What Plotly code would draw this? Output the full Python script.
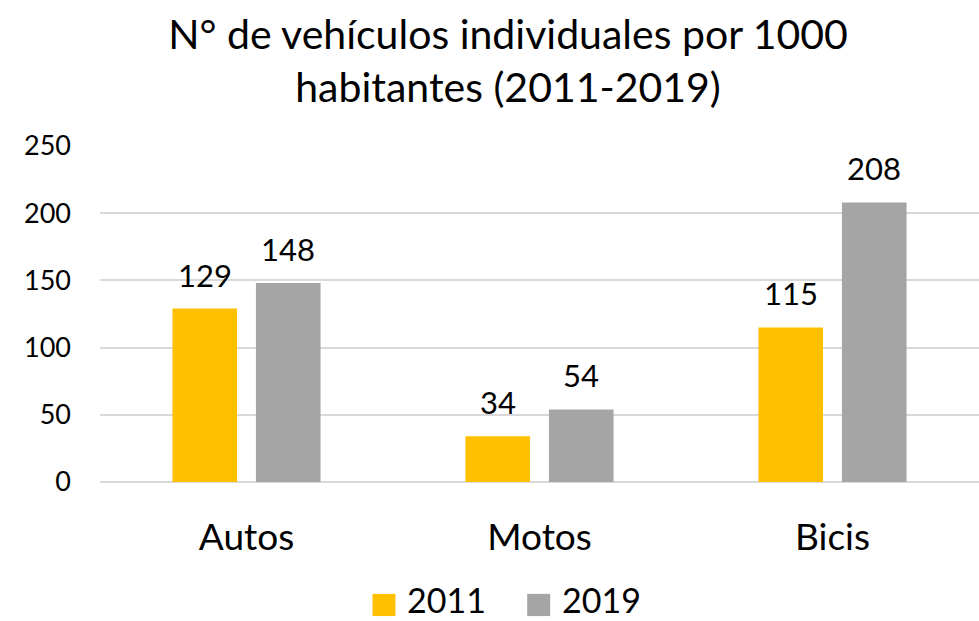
import plotly.graph_objects as go

categories = ["Autos", "Motos", "Bicis"]
series_names = ["2011", "2019"]
values_2011 = [129, 34, 115]
values_2019 = [148, 54, 208]
colors = ["#FFC000", "#A5A5A5"]
y_ticks = [0, 50, 100, 150, 200, 250]

FONT = "Lato"
BARGAP = 0.43
BARGROUPGAP = 0.226
PLOT_W = 880
PLOT_H = 336

fig = go.Figure()
for name, vals, col in zip(series_names, [values_2011, values_2019], colors):
    fig.add_trace(go.Bar(
        x=categories, y=vals, name=name, marker=dict(color=col, line=dict(width=0)),
        showlegend=False, hoverinfo="x+y",
    ))

# data labels above bars, offset derived from the group layout
slot = (1 - BARGAP) / 2
annotations = []
for k, vals in enumerate([values_2011, values_2019]):
    off = (k - 0.5) * slot
    for i, v in enumerate(vals):
        annotations.append(dict(
            x=i + off, y=v, xref="x", yref="y", text=str(v), showarrow=False,
            yanchor="bottom", yshift=13, font=dict(family=FONT, size=31, color="#000000"),
        ))

# custom legend (large square swatches)
legend_x = [0.310, 0.486]
for name, col, lx in zip(series_names, colors, legend_x):
    fig.add_shape(type="rect", xref="paper", yref="paper",
                  x0=lx, x1=lx + 23 / PLOT_W, y0=-0.399, y1=-0.333,
                  fillcolor=col, line=dict(width=0))
    annotations.append(dict(
        x=lx + 34 / PLOT_W, y=-139 / PLOT_H, xref="paper", yref="paper", text=name,
        showarrow=False, xanchor="left", yanchor="bottom", borderpad=0,
        font=dict(family=FONT, size=34, color="#000000"),
    ))

fig.update_layout(
    width=979, height=621,
    margin=dict(l=100, r=0, t=146, b=139),
    paper_bgcolor="white", plot_bgcolor="white",
    barmode="group", bargap=BARGAP, bargroupgap=BARGROUPGAP,
    title=dict(
        text="N° de vehículos individuales por 1000<br>habitantes (2011-2019)",
        x=508 / 979, xanchor="center", xref="container",
        y=1 - 49 / 621, yanchor="top", yref="container",
        font=dict(family=FONT, size=41, color="#000000"),
    ),
    xaxis=dict(
        showgrid=False, showline=False, ticks="",
        tickfont=dict(family=FONT, size=37, color="#000000"),
        ticklabelstandoff=30,
    ),
    yaxis=dict(
        range=[0, 250], tickvals=y_ticks, showgrid=True, gridcolor="#D9D9D9", gridwidth=1.5,
        zeroline=True, zerolinecolor="#D9D9D9", zerolinewidth=1.5,
        showline=False, ticks="",
        tickfont=dict(family=FONT, size=27, color="#000000"),
        ticklabelstandoff=28,
    ),
    annotations=annotations,
    showlegend=False,
)

fig.write_html("out.html", config={"displayModeBar": False},
               post_script="document.body.style.margin='0';")
